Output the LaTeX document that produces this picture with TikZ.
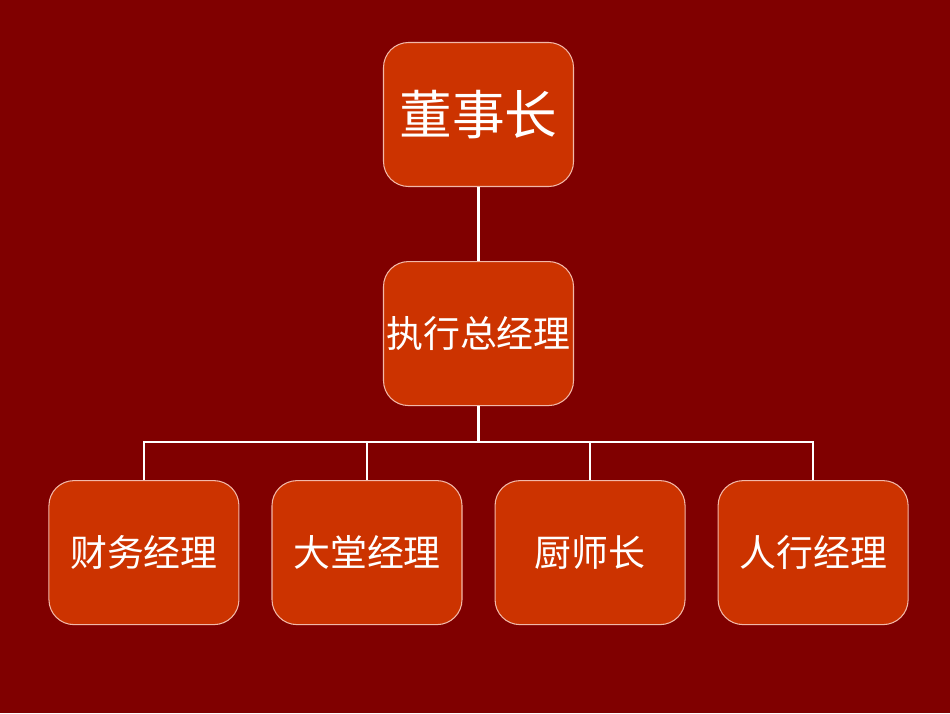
\documentclass[tikz,border=0pt]{standalone}
\usepackage{fontspec}
\newfontfamily\cjk{Noto Sans CJK SC}
\usepackage{tikz}
\usetikzlibrary{positioning}
\definecolor{bgred}{HTML}{800000}
\definecolor{boxred}{HTML}{CC3300}
\definecolor{rim}{HTML}{F2B8A8}

\begin{document}
\begin{tikzpicture}[
			node distance=1.48cm,
			box/.style={
				draw=rim,
				line width=0.6pt,
				fill=boxred,
				rounded corners=0.5cm,
				minimum width=3.8cm,
				minimum height=2.88cm,
				inner xsep=1pt,
				align=center,
				text=white,
				font=\cjk\fontsize{21}{25}\selectfont
			},
			link/.style={draw=white,line width=1.5pt}
			]
			
			\fill[bgred] (0,0) rectangle (19,-14.26);
			
			\node[box,font=\cjk\fontsize{30}{36}\selectfont] (chair) at (9.57,-2.29) {董事长};
			
			\node[box,below=of chair] (gm) {执行总经理};
			
			\node[box,below=of gm,xshift=-2.23cm] (hall) {大堂经理};
			\node[box,left=0.64cm of hall] (fin) {财务经理};
			\node[box,right=0.64cm of hall] (chef) {厨师长};
			\node[box,right=0.64cm of chef] (hr) {人行经理};
			
			\path (gm.south) ++(0,-0.72) coordinate (bus);
			
			\draw[link] (chair) -- (gm);
			\foreach \b in {fin,hall,chef,hr}
				\draw[link] (gm.south) |- (bus -| \b.north) -- (\b.north);
			
		\end{tikzpicture}
\end{document}
